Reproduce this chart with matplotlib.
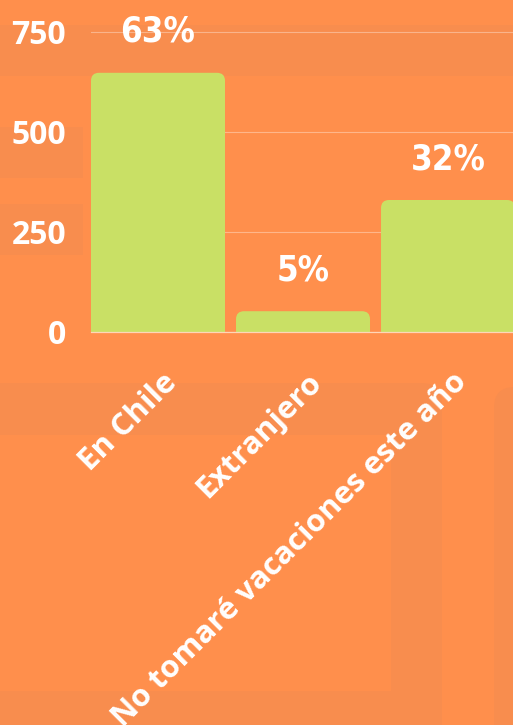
import matplotlib.pyplot as plt
import matplotlib.transforms as mtransforms
from matplotlib.patches import FancyBboxPatch, Rectangle

# data
categories = ['En Chile', 'Extranjero', 'No tomaré vacaciones este año']
values = [648, 52, 330]
pct_labels = ['63%', '5%', '32%']
y_ticks = [0, 250, 500, 750]

bg = '#FF8F4C'
bg_dark = '#F88D4E'
bar_color = '#C9E065'

W, H, DPI = 513, 725, 100
fig = plt.figure(figsize=(W / DPI, H / DPI), dpi=DPI, facecolor=bg)

# faint page decoration behind the chart
def frect(x0, y0, x1, y1, color=bg_dark, rounded=False):
    if rounded:
        p = FancyBboxPatch((x0 / W, 1 - y1 / H), (x1 - x0) / W, (y1 - y0) / H,
                           boxstyle='round,pad=0,rounding_size=0.04',
                           mutation_aspect=W / H,
                           transform=fig.transFigure, fc=color, ec='none', zorder=-5)
    else:
        p = Rectangle((x0 / W, 1 - y1 / H), (x1 - x0) / W, (y1 - y0) / H,
                      transform=fig.transFigure, fc=color, ec='none', zorder=-5)
    fig.patches.append(p)

frect(0, 25, W, 76)
frect(0, 127, 83, 178)
frect(0, 204, 83, 255)
frect(-30, 383, 442, 760, rounded=True)
frect(0, 435, 391, 691, color=bg)
frect(494, 387, 560, 760, rounded=True)

# axes: left edge at x=91px, baseline at y=332px, top at y=0
ax = fig.add_axes([91 / W, 1 - 332 / H, (W - 91) / W, 332 / H])
ax.set_facecolor('none')
ax.set_zorder(5)

x = list(range(len(categories)))
bar_w = 134 / 145
bars = ax.bar(x, values, width=bar_w, color=bar_color)
ax.set_xlim(-0.462, 2.448)
ax.set_ylim(0, 830)

# rounded tops: replace rectangles with rounded patches (bottom hidden below 0)
x_px = 145
y_per_px = 2.5
aspect = y_per_px * x_px
r = 8 / x_px
for b in bars:
    b.set_visible(False)
    rb = FancyBboxPatch((b.get_x(), -40), b.get_width(), b.get_height() + 40,
                        boxstyle=f'round,pad=0,rounding_size={r}',
                        mutation_aspect=aspect, fc=bar_color, ec='none', zorder=2)
    ax.add_patch(rb)

# value labels
for xi, v, lab in zip(x, values, pct_labels):
    ax.annotate(lab, (xi, v), xytext=(0, 41 * 72 / DPI), textcoords='offset points',
                ha='center', va='center', color='white', fontsize=25,
                family='DejaVu Sans', fontstretch='condensed', fontweight='bold',
                annotation_clip=False, zorder=3)

# grid and axes styling
ax.set_yticks(y_ticks)
ax.yaxis.grid(True, color='white', alpha=0.35, lw=0.8, zorder=0)
ax.set_axisbelow(True)
for s in ['top', 'right', 'left']:
    ax.spines[s].set_visible(False)
ax.spines['bottom'].set_color('#FFD6B8')
ax.spines['bottom'].set_linewidth(0.9)
ax.tick_params(axis='y', length=0, pad=18, labelcolor='white', labelsize=23)
for t in ax.get_yticklabels():
    t.set_fontfamily('Open Sans')
    t.set_fontweight('bold')

ax.set_xticks(x)
ax.set_xticklabels(categories, rotation=45, ha='right', va='center',
                   rotation_mode='anchor', color='white', fontsize=22.5,
                   family='Open Sans', fontweight='bold')
ax.tick_params(axis='x', length=0, pad=33)
offset = mtransforms.ScaledTranslation(14 / DPI, 0, fig.dpi_scale_trans)
for t in ax.get_xticklabels():
    t.set_transform(t.get_transform() + offset)

fig.savefig('out.png', dpi=DPI, facecolor=bg)
